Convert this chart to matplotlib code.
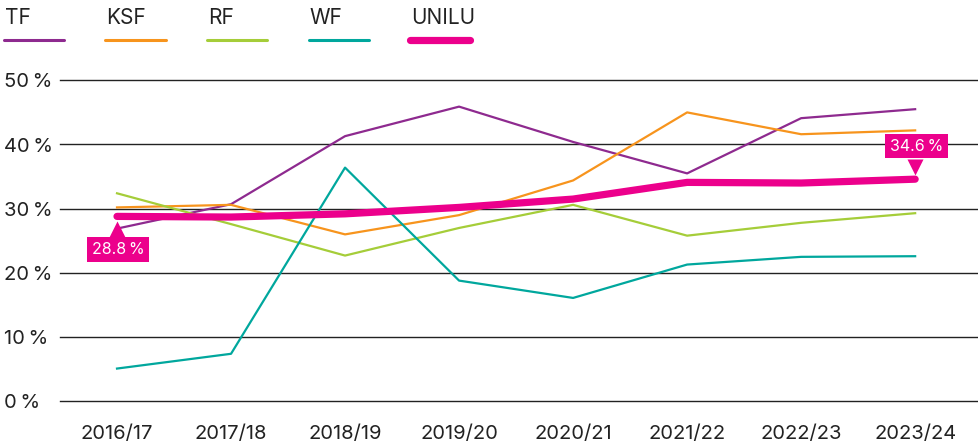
import matplotlib
matplotlib.use('Agg')
import matplotlib.pyplot as plt
from matplotlib.lines import Line2D
from matplotlib.transforms import ScaledTranslation

plt.rcParams['font.family'] = ['Inter', 'DejaVu Sans']

# data
years = ['2016/17', '2017/18', '2018/19', '2019/20', '2020/21', '2021/22', '2022/23', '2023/24']
tf = [26.9, 30.7, 41.3, 45.9, 40.4, 35.5, 44.1, 45.5]
ksf = [30.2, 30.6, 26.0, 29.0, 34.4, 45.0, 41.6, 42.2]
rf = [32.4, 27.6, 22.7, 27.0, 30.6, 25.8, 27.8, 29.3]
wf = [5.1, 7.4, 36.4, 18.8, 16.1, 21.3, 22.5, 22.6]
unilu = [28.8, 28.7, 29.2, 30.2, 31.5, 34.1, 34.0, 34.6]
y_ticks = [0, 10, 20, 30, 40, 50]

series = [('TF', tf, '#8E2A8F'), ('KSF', ksf, '#F7941D'), ('RF', rf, '#A5CD39'),
          ('WF', wf, '#00A79D'), ('UNILU', unilu, '#EC008C')]

PINK = '#EC008C'
TEXT = '#222222'

fig = plt.figure(figsize=(9.79, 4.48), dpi=100)
ax = fig.add_axes([60 / 979, 46.7 / 448, 1 - 60 / 979, 321 / 448])

x = list(range(len(years)))
for name, vals, col in series:
    if name == 'UNILU':
        ax.plot(x, vals, color=col, lw=5.2, solid_capstyle='round', solid_joinstyle='round', zorder=5)
    else:
        ax.plot(x, vals, color=col, lw=1.6, zorder=3)

ax.set_xlim(-0.5, 7.56)
ax.set_ylim(0, 50)
ax.set_xticks(x)
ax.set_xticklabels(years, fontsize=14.5, color=TEXT)
ax.set_yticks(y_ticks)
ax.set_yticklabels([f'{v}\u2009%' for v in y_ticks], fontsize=14.5, color=TEXT, ha='left')
ax.tick_params(axis='x', length=0, pad=17)
ax.tick_params(axis='y', length=0, pad=40)
for s in ax.spines.values():
    s.set_visible(False)
ax.yaxis.grid(True, color='#222222', lw=1)
for gl in ax.get_ygridlines():
    gl.set_clip_on(False)
ax.set_axisbelow(True)

# value callouts
def callout(i, val, below):
    dy = -1 if below else 1
    tri = ScaledTranslation(0, dy * 12.5 / 100, fig.dpi_scale_trans)
    ax.plot(i, val, marker='^' if below else 'v', ms=12, color=PINK, mec='none',
            transform=ax.transData + tri, zorder=6, clip_on=False)
    ax.annotate(f'{val}\u2009%', (i, val), xytext=(1, dy * 33), textcoords='offset pixels',
                ha='center', va='center', color='white', fontsize=11.5, zorder=7,
                bbox=dict(boxstyle='square,pad=0.3', fc=PINK, ec='none'))

callout(0, unilu[0], True)
callout(7, unilu[-1], False)

# legend
for k, (name, vals, col) in enumerate(series):
    x0 = (4 + k * 101.5) / 979
    fig.text(x0 + 1 / 979, (448 - 18) / 448, name, fontsize=15, color=TEXT, va='center', ha='left')
    fig.add_artist(Line2D([x0, x0 + 60 / 979], [(448 - 40) / 448] * 2, color=col,
                          lw=5.2 if name == 'UNILU' else 2.2, solid_capstyle='round'))

fig.savefig('out.png', dpi=100)
